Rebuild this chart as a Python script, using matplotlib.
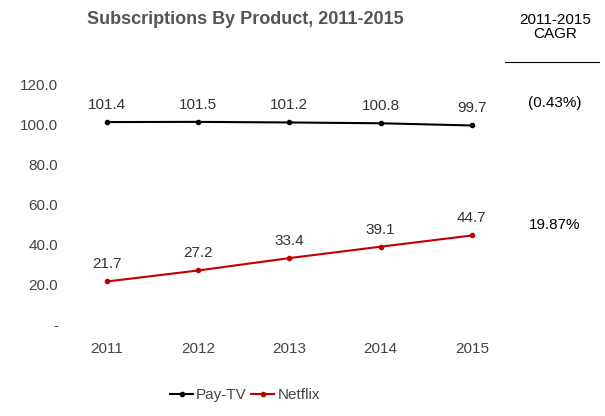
import matplotlib.pyplot as plt

plt.rcParams['font.family'] = ['Liberation Sans', 'DejaVu Sans']

years = [2011, 2012, 2013, 2014, 2015]
paytv = [101.4, 101.5, 101.2, 100.8, 99.7]
netflix = [21.7, 27.2, 33.4, 39.1, 44.7]
cagr_labels = ['(0.43%)', '19.87%']
yticks = [0, 20, 40, 60, 80, 100, 120]
ytick_labels = ['-', '20.0', '40.0', '60.0', '80.0', '100.0', '120.0']

fig = plt.figure(figsize=(6.05, 4.16), dpi=100)
ax = fig.add_axes([0.124, 0.219, 0.686, 0.577])

ax.plot(years, paytv, color='black', marker='o', markersize=3, lw=1.5, label='Pay-TV')
ax.plot(years, netflix, color='#c00000', marker='o', markersize=3, lw=1.5, label='Netflix')
for x, y in zip(years, paytv):
    ax.text(x, y + 5, f'{y:.1f}', ha='center', va='bottom', fontsize=11, color='#333333')
for x, y in zip(years, netflix):
    ax.text(x, y + 5, f'{y:.1f}', ha='center', va='bottom', fontsize=11, color='#333333')

ax.set_xlim(2010.65, 2015.2)
ax.set_ylim(0, 120)
ax.set_xticks(years)
ax.set_yticks(yticks)
ax.set_yticklabels(ytick_labels)
ax.tick_params(length=0, labelsize=11, colors='#444444', pad=12)
for s in ax.spines.values():
    s.set_visible(False)

fig.text(0.405, 0.952, 'Subscriptions By Product, 2011-2015', ha='center', va='center',
         fontsize=13, fontweight='bold', color='#555555')
fig.text(0.917, 0.935, '2011-2015\nCAGR', ha='center', va='center', fontsize=11, linespacing=1.0)
fig.add_artist(plt.Line2D([0.835, 0.99], [0.851, 0.851], color='black', lw=0.8))
fig.text(0.917, 1 - 103 / 416, cagr_labels[0], ha='center', va='center', fontsize=11)
fig.text(0.917, 1 - 225 / 416, cagr_labels[1], ha='center', va='center', fontsize=11)

fig.legend(loc='center', bbox_to_anchor=(0.405, 1 - 395 / 416), ncol=2, frameon=False,
           fontsize=11, handlelength=1.5, handletextpad=0.2, columnspacing=0.3,
           labelcolor='#444444')

fig.savefig('out.png', dpi=100)
